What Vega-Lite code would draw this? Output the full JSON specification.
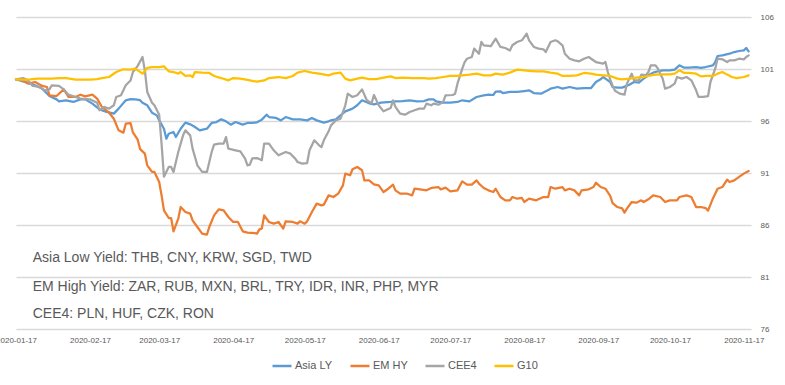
{
"$schema": "https://vega.github.io/schema/vega-lite/v6.json",
"width": 735, "height": 312,
"autosize": {"type": "none"},
"padding": {"left": 16, "top": 17, "right": 34, "bottom": 56},
"background": "white",
"config": {"view": {"stroke": null}, "font": "Liberation Sans"},
"datasets": {
"notes": [
{"t": "Asia Low Yield: THB, CNY, KRW, SGD, TWD", "d": "2020-01-24", "v": 82.49},
{"t": "EM High Yield: ZAR, RUB, MXN, BRL, TRY, IDR, INR, PHP, MYR", "d": "2020-01-24", "v": 79.7},
{"t": "CEE4: PLN, HUF, CZK, RON", "d": "2020-01-24", "v": 77.06}
],
"fx": [
{"s":"Asia LY","d":"2020-01-17","v":100},{"s":"Asia LY","d":"2020-01-20","v":99.81},{"s":"Asia LY","d":"2020-01-23","v":99.59},{"s":"Asia LY","d":"2020-01-25","v":99.43},{"s":"Asia LY","d":"2020-01-28","v":99.11},{"s":"Asia LY","d":"2020-01-31","v":98.4},{"s":"Asia LY","d":"2020-02-03","v":98.08},{"s":"Asia LY","d":"2020-02-04","v":97.89},{"s":"Asia LY","d":"2020-02-07","v":97.99},{"s":"Asia LY","d":"2020-02-10","v":97.83},{"s":"Asia LY","d":"2020-02-13","v":98.08},{"s":"Asia LY","d":"2020-02-15","v":98.08},{"s":"Asia LY","d":"2020-02-18","v":97.67},{"s":"Asia LY","d":"2020-02-21","v":97.12},{"s":"Asia LY","d":"2020-02-24","v":96.87},{"s":"Asia LY","d":"2020-02-27","v":96.71},{"s":"Asia LY","d":"2020-02-29","v":97.19},{"s":"Asia LY","d":"2020-03-03","v":97.99},{"s":"Asia LY","d":"2020-03-05","v":98.1},{"s":"Asia LY","d":"2020-03-07","v":98.08},{"s":"Asia LY","d":"2020-03-09","v":98.0},{"s":"Asia LY","d":"2020-03-10","v":97.76},{"s":"Asia LY","d":"2020-03-12","v":97.51},{"s":"Asia LY","d":"2020-03-14","v":96.8},{"s":"Asia LY","d":"2020-03-16","v":96.54},{"s":"Asia LY","d":"2020-03-17","v":96.06},{"s":"Asia LY","d":"2020-03-19","v":95.26},{"s":"Asia LY","d":"2020-03-20","v":94.3},{"s":"Asia LY","d":"2020-03-21","v":94.78},{"s":"Asia LY","d":"2020-03-23","v":94.94},{"s":"Asia LY","d":"2020-03-24","v":94.46},{"s":"Asia LY","d":"2020-03-26","v":95.26},{"s":"Asia LY","d":"2020-03-28","v":95.84},{"s":"Asia LY","d":"2020-03-30","v":95.68},{"s":"Asia LY","d":"2020-04-01","v":95.42},{"s":"Asia LY","d":"2020-04-03","v":95.1},{"s":"Asia LY","d":"2020-04-06","v":95.26},{"s":"Asia LY","d":"2020-04-08","v":95.81},{"s":"Asia LY","d":"2020-04-10","v":95.9},{"s":"Asia LY","d":"2020-04-12","v":96.16},{"s":"Asia LY","d":"2020-04-14","v":95.97},{"s":"Asia LY","d":"2020-04-16","v":95.65},{"s":"Asia LY","d":"2020-04-18","v":95.9},{"s":"Asia LY","d":"2020-04-21","v":95.65},{"s":"Asia LY","d":"2020-04-23","v":95.81},{"s":"Asia LY","d":"2020-04-25","v":95.81},{"s":"Asia LY","d":"2020-04-27","v":95.87},{"s":"Asia LY","d":"2020-04-29","v":96.13},{"s":"Asia LY","d":"2020-05-01","v":96.61},{"s":"Asia LY","d":"2020-05-02","v":96.38},{"s":"Asia LY","d":"2020-05-05","v":96.29},{"s":"Asia LY","d":"2020-05-07","v":96.06},{"s":"Asia LY","d":"2020-05-09","v":96.38},{"s":"Asia LY","d":"2020-05-12","v":96.16},{"s":"Asia LY","d":"2020-05-15","v":96.16},{"s":"Asia LY","d":"2020-05-18","v":96.06},{"s":"Asia LY","d":"2020-05-20","v":96.29},{"s":"Asia LY","d":"2020-05-22","v":96.06},{"s":"Asia LY","d":"2020-05-25","v":95.84},{"s":"Asia LY","d":"2020-05-27","v":95.97},{"s":"Asia LY","d":"2020-05-28","v":96.06},{"s":"Asia LY","d":"2020-05-30","v":96.16},{"s":"Asia LY","d":"2020-06-01","v":96.54},{"s":"Asia LY","d":"2020-06-03","v":96.93},{"s":"Asia LY","d":"2020-06-06","v":97.19},{"s":"Asia LY","d":"2020-06-08","v":97.51},{"s":"Asia LY","d":"2020-06-10","v":97.99},{"s":"Asia LY","d":"2020-06-13","v":97.7},{"s":"Asia LY","d":"2020-06-15","v":97.6},{"s":"Asia LY","d":"2020-06-18","v":97.76},{"s":"Asia LY","d":"2020-06-22","v":97.83},{"s":"Asia LY","d":"2020-06-24","v":97.89},{"s":"Asia LY","d":"2020-06-27","v":97.92},{"s":"Asia LY","d":"2020-06-30","v":97.99},{"s":"Asia LY","d":"2020-07-03","v":97.89},{"s":"Asia LY","d":"2020-07-06","v":97.92},{"s":"Asia LY","d":"2020-07-08","v":98.08},{"s":"Asia LY","d":"2020-07-10","v":98.08},{"s":"Asia LY","d":"2020-07-11","v":97.89},{"s":"Asia LY","d":"2020-07-14","v":97.76},{"s":"Asia LY","d":"2020-07-17","v":97.76},{"s":"Asia LY","d":"2020-07-20","v":97.83},{"s":"Asia LY","d":"2020-07-22","v":97.99},{"s":"Asia LY","d":"2020-07-25","v":97.89},{"s":"Asia LY","d":"2020-07-28","v":98.31},{"s":"Asia LY","d":"2020-07-31","v":98.47},{"s":"Asia LY","d":"2020-08-02","v":98.53},{"s":"Asia LY","d":"2020-08-04","v":98.5},{"s":"Asia LY","d":"2020-08-05","v":98.82},{"s":"Asia LY","d":"2020-08-07","v":98.85},{"s":"Asia LY","d":"2020-08-08","v":98.69},{"s":"Asia LY","d":"2020-08-11","v":98.79},{"s":"Asia LY","d":"2020-08-14","v":98.79},{"s":"Asia LY","d":"2020-08-17","v":98.88},{"s":"Asia LY","d":"2020-08-19","v":98.95},{"s":"Asia LY","d":"2020-08-21","v":98.69},{"s":"Asia LY","d":"2020-08-24","v":98.63},{"s":"Asia LY","d":"2020-08-26","v":98.85},{"s":"Asia LY","d":"2020-08-28","v":99.11},{"s":"Asia LY","d":"2020-08-31","v":99.27},{"s":"Asia LY","d":"2020-09-02","v":99.11},{"s":"Asia LY","d":"2020-09-05","v":99.27},{"s":"Asia LY","d":"2020-09-08","v":99.11},{"s":"Asia LY","d":"2020-09-11","v":99.17},{"s":"Asia LY","d":"2020-09-14","v":99.17},{"s":"Asia LY","d":"2020-09-16","v":99.75},{"s":"Asia LY","d":"2020-09-18","v":100.01},{"s":"Asia LY","d":"2020-09-19","v":100.23},{"s":"Asia LY","d":"2020-09-20","v":100.07},{"s":"Asia LY","d":"2020-09-22","v":99.75},{"s":"Asia LY","d":"2020-09-23","v":99.27},{"s":"Asia LY","d":"2020-09-25","v":99.2},{"s":"Asia LY","d":"2020-09-27","v":99.21},{"s":"Asia LY","d":"2020-09-30","v":99.49},{"s":"Asia LY","d":"2020-10-02","v":99.75},{"s":"Asia LY","d":"2020-10-04","v":99.69},{"s":"Asia LY","d":"2020-10-06","v":100.07},{"s":"Asia LY","d":"2020-10-08","v":100.39},{"s":"Asia LY","d":"2020-10-10","v":100.65},{"s":"Asia LY","d":"2020-10-12","v":100.78},{"s":"Asia LY","d":"2020-10-14","v":100.87},{"s":"Asia LY","d":"2020-10-17","v":100.87},{"s":"Asia LY","d":"2020-10-19","v":100.94},{"s":"Asia LY","d":"2020-10-21","v":101.35},{"s":"Asia LY","d":"2020-10-23","v":101.13},{"s":"Asia LY","d":"2020-10-25","v":101.13},{"s":"Asia LY","d":"2020-10-28","v":101.19},{"s":"Asia LY","d":"2020-10-30","v":101.1},{"s":"Asia LY","d":"2020-11-01","v":101.19},{"s":"Asia LY","d":"2020-11-04","v":101.35},{"s":"Asia LY","d":"2020-11-05","v":101.67},{"s":"Asia LY","d":"2020-11-06","v":102.25},{"s":"Asia LY","d":"2020-11-08","v":102.31},{"s":"Asia LY","d":"2020-11-11","v":102.47},{"s":"Asia LY","d":"2020-11-13","v":102.63},{"s":"Asia LY","d":"2020-11-15","v":102.73},{"s":"Asia LY","d":"2020-11-17","v":102.79},{"s":"Asia LY","d":"2020-11-18","v":103.02},{"s":"Asia LY","d":"2020-11-19","v":102.7},
{"s":"EM HY","d":"2020-01-17","v":100},{"s":"EM HY","d":"2020-01-20","v":99.91},{"s":"EM HY","d":"2020-01-22","v":99.59},{"s":"EM HY","d":"2020-01-25","v":99.75},{"s":"EM HY","d":"2020-01-28","v":99.37},{"s":"EM HY","d":"2020-01-30","v":99.27},{"s":"EM HY","d":"2020-01-31","v":98.47},{"s":"EM HY","d":"2020-02-03","v":98.4},{"s":"EM HY","d":"2020-02-06","v":99.04},{"s":"EM HY","d":"2020-02-08","v":98.31},{"s":"EM HY","d":"2020-02-11","v":98.31},{"s":"EM HY","d":"2020-02-13","v":98.53},{"s":"EM HY","d":"2020-02-15","v":98.37},{"s":"EM HY","d":"2020-02-18","v":98.53},{"s":"EM HY","d":"2020-02-20","v":98.15},{"s":"EM HY","d":"2020-02-22","v":97.35},{"s":"EM HY","d":"2020-02-25","v":96.8},{"s":"EM HY","d":"2020-02-27","v":96.22},{"s":"EM HY","d":"2020-02-29","v":95.1},{"s":"EM HY","d":"2020-03-02","v":94.88},{"s":"EM HY","d":"2020-03-03","v":95.74},{"s":"EM HY","d":"2020-03-05","v":95.8},{"s":"EM HY","d":"2020-03-06","v":94.9},{"s":"EM HY","d":"2020-03-08","v":94.2},{"s":"EM HY","d":"2020-03-09","v":93.3},{"s":"EM HY","d":"2020-03-11","v":92.86},{"s":"EM HY","d":"2020-03-12","v":91.74},{"s":"EM HY","d":"2020-03-14","v":91.1},{"s":"EM HY","d":"2020-03-15","v":91.1},{"s":"EM HY","d":"2020-03-17","v":90.13},{"s":"EM HY","d":"2020-03-18","v":88.85},{"s":"EM HY","d":"2020-03-19","v":87.41},{"s":"EM HY","d":"2020-03-21","v":86.67},{"s":"EM HY","d":"2020-03-22","v":86.67},{"s":"EM HY","d":"2020-03-23","v":85.39},{"s":"EM HY","d":"2020-03-25","v":86.61},{"s":"EM HY","d":"2020-03-26","v":87.73},{"s":"EM HY","d":"2020-03-28","v":87.25},{"s":"EM HY","d":"2020-03-30","v":87.09},{"s":"EM HY","d":"2020-03-31","v":86.45},{"s":"EM HY","d":"2020-04-02","v":85.81},{"s":"EM HY","d":"2020-04-04","v":85.17},{"s":"EM HY","d":"2020-04-06","v":85.07},{"s":"EM HY","d":"2020-04-07","v":85.81},{"s":"EM HY","d":"2020-04-09","v":86.93},{"s":"EM HY","d":"2020-04-11","v":87.51},{"s":"EM HY","d":"2020-04-13","v":87.41},{"s":"EM HY","d":"2020-04-15","v":86.77},{"s":"EM HY","d":"2020-04-17","v":86.29},{"s":"EM HY","d":"2020-04-19","v":86.29},{"s":"EM HY","d":"2020-04-21","v":85.39},{"s":"EM HY","d":"2020-04-23","v":85.26},{"s":"EM HY","d":"2020-04-26","v":85.22},{"s":"EM HY","d":"2020-04-27","v":85.17},{"s":"EM HY","d":"2020-04-28","v":85.58},{"s":"EM HY","d":"2020-04-29","v":85.65},{"s":"EM HY","d":"2020-04-30","v":86.93},{"s":"EM HY","d":"2020-05-02","v":86.29},{"s":"EM HY","d":"2020-05-04","v":86.13},{"s":"EM HY","d":"2020-05-06","v":86.29},{"s":"EM HY","d":"2020-05-08","v":85.65},{"s":"EM HY","d":"2020-05-09","v":86.35},{"s":"EM HY","d":"2020-05-12","v":86.29},{"s":"EM HY","d":"2020-05-14","v":86.13},{"s":"EM HY","d":"2020-05-15","v":86.35},{"s":"EM HY","d":"2020-05-17","v":86.13},{"s":"EM HY","d":"2020-05-18","v":86.35},{"s":"EM HY","d":"2020-05-20","v":87.25},{"s":"EM HY","d":"2020-05-22","v":88.05},{"s":"EM HY","d":"2020-05-24","v":87.89},{"s":"EM HY","d":"2020-05-25","v":87.96},{"s":"EM HY","d":"2020-05-27","v":88.85},{"s":"EM HY","d":"2020-05-29","v":88.69},{"s":"EM HY","d":"2020-05-31","v":89.01},{"s":"EM HY","d":"2020-06-02","v":89.81},{"s":"EM HY","d":"2020-06-03","v":90.94},{"s":"EM HY","d":"2020-06-05","v":90.78},{"s":"EM HY","d":"2020-06-06","v":91.35},{"s":"EM HY","d":"2020-06-08","v":91.58},{"s":"EM HY","d":"2020-06-10","v":91.26},{"s":"EM HY","d":"2020-06-11","v":90.29},{"s":"EM HY","d":"2020-06-13","v":90.29},{"s":"EM HY","d":"2020-06-15","v":89.9},{"s":"EM HY","d":"2020-06-17","v":89.81},{"s":"EM HY","d":"2020-06-19","v":89.17},{"s":"EM HY","d":"2020-06-21","v":89.49},{"s":"EM HY","d":"2020-06-23","v":89.88},{"s":"EM HY","d":"2020-06-24","v":89.33},{"s":"EM HY","d":"2020-06-26","v":89.01},{"s":"EM HY","d":"2020-06-29","v":89.01},{"s":"EM HY","d":"2020-07-01","v":88.85},{"s":"EM HY","d":"2020-07-02","v":89.49},{"s":"EM HY","d":"2020-07-05","v":89.4},{"s":"EM HY","d":"2020-07-07","v":89.33},{"s":"EM HY","d":"2020-07-09","v":89.56},{"s":"EM HY","d":"2020-07-12","v":89.65},{"s":"EM HY","d":"2020-07-13","v":89.43},{"s":"EM HY","d":"2020-07-15","v":89.59},{"s":"EM HY","d":"2020-07-17","v":89.24},{"s":"EM HY","d":"2020-07-20","v":89.33},{"s":"EM HY","d":"2020-07-22","v":90.2},{"s":"EM HY","d":"2020-07-24","v":89.88},{"s":"EM HY","d":"2020-07-26","v":89.88},{"s":"EM HY","d":"2020-07-28","v":90.29},{"s":"EM HY","d":"2020-07-29","v":89.97},{"s":"EM HY","d":"2020-07-31","v":89.56},{"s":"EM HY","d":"2020-08-02","v":89.33},{"s":"EM HY","d":"2020-08-04","v":89.17},{"s":"EM HY","d":"2020-08-05","v":89.49},{"s":"EM HY","d":"2020-08-07","v":88.69},{"s":"EM HY","d":"2020-08-09","v":88.37},{"s":"EM HY","d":"2020-08-11","v":88.37},{"s":"EM HY","d":"2020-08-12","v":88.69},{"s":"EM HY","d":"2020-08-14","v":88.53},{"s":"EM HY","d":"2020-08-16","v":88.6},{"s":"EM HY","d":"2020-08-17","v":88.21},{"s":"EM HY","d":"2020-08-19","v":88.53},{"s":"EM HY","d":"2020-08-22","v":88.37},{"s":"EM HY","d":"2020-08-25","v":88.69},{"s":"EM HY","d":"2020-08-27","v":88.69},{"s":"EM HY","d":"2020-08-28","v":89.65},{"s":"EM HY","d":"2020-08-30","v":89.49},{"s":"EM HY","d":"2020-09-02","v":89.65},{"s":"EM HY","d":"2020-09-03","v":89.33},{"s":"EM HY","d":"2020-09-05","v":89.49},{"s":"EM HY","d":"2020-09-07","v":89.33},{"s":"EM HY","d":"2020-09-09","v":88.85},{"s":"EM HY","d":"2020-09-10","v":89.33},{"s":"EM HY","d":"2020-09-13","v":89.43},{"s":"EM HY","d":"2020-09-15","v":89.65},{"s":"EM HY","d":"2020-09-16","v":90.07},{"s":"EM HY","d":"2020-09-18","v":89.65},{"s":"EM HY","d":"2020-09-20","v":89.49},{"s":"EM HY","d":"2020-09-22","v":88.8},{"s":"EM HY","d":"2020-09-23","v":88.1},{"s":"EM HY","d":"2020-09-25","v":87.73},{"s":"EM HY","d":"2020-09-27","v":87.6},{"s":"EM HY","d":"2020-09-28","v":87.19},{"s":"EM HY","d":"2020-09-29","v":87.57},{"s":"EM HY","d":"2020-10-01","v":88.21},{"s":"EM HY","d":"2020-10-03","v":88.15},{"s":"EM HY","d":"2020-10-05","v":88.37},{"s":"EM HY","d":"2020-10-06","v":88.21},{"s":"EM HY","d":"2020-10-08","v":88.47},{"s":"EM HY","d":"2020-10-10","v":88.85},{"s":"EM HY","d":"2020-10-13","v":88.69},{"s":"EM HY","d":"2020-10-15","v":88.21},{"s":"EM HY","d":"2020-10-17","v":88.37},{"s":"EM HY","d":"2020-10-20","v":88.37},{"s":"EM HY","d":"2020-10-21","v":88.69},{"s":"EM HY","d":"2020-10-24","v":88.85},{"s":"EM HY","d":"2020-10-26","v":88.69},{"s":"EM HY","d":"2020-10-28","v":87.73},{"s":"EM HY","d":"2020-10-30","v":87.73},{"s":"EM HY","d":"2020-11-01","v":87.63},{"s":"EM HY","d":"2020-11-02","v":87.38},{"s":"EM HY","d":"2020-11-04","v":88.53},{"s":"EM HY","d":"2020-11-06","v":89.49},{"s":"EM HY","d":"2020-11-08","v":89.65},{"s":"EM HY","d":"2020-11-10","v":90.36},{"s":"EM HY","d":"2020-11-11","v":90.13},{"s":"EM HY","d":"2020-11-13","v":90.29},{"s":"EM HY","d":"2020-11-15","v":90.62},{"s":"EM HY","d":"2020-11-17","v":90.94},{"s":"EM HY","d":"2020-11-19","v":91.19},
{"s":"CEE4","d":"2020-01-17","v":100},{"s":"CEE4","d":"2020-01-20","v":100.13},{"s":"CEE4","d":"2020-01-22","v":99.91},{"s":"CEE4","d":"2020-01-24","v":99.37},{"s":"CEE4","d":"2020-01-27","v":99.27},{"s":"CEE4","d":"2020-01-29","v":98.95},{"s":"CEE4","d":"2020-01-31","v":99.04},{"s":"CEE4","d":"2020-02-01","v":99.43},{"s":"CEE4","d":"2020-02-04","v":99.37},{"s":"CEE4","d":"2020-02-06","v":99.04},{"s":"CEE4","d":"2020-02-08","v":98.53},{"s":"CEE4","d":"2020-02-11","v":98.31},{"s":"CEE4","d":"2020-02-13","v":98.15},{"s":"CEE4","d":"2020-02-17","v":98.08},{"s":"CEE4","d":"2020-02-20","v":97.76},{"s":"CEE4","d":"2020-02-21","v":97.03},{"s":"CEE4","d":"2020-02-23","v":97.35},{"s":"CEE4","d":"2020-02-25","v":97.19},{"s":"CEE4","d":"2020-02-27","v":97.51},{"s":"CEE4","d":"2020-02-28","v":98.31},{"s":"CEE4","d":"2020-03-01","v":98.47},{"s":"CEE4","d":"2020-03-03","v":99.43},{"s":"CEE4","d":"2020-03-05","v":99.9},{"s":"CEE4","d":"2020-03-06","v":100.71},{"s":"CEE4","d":"2020-03-08","v":101.3},{"s":"CEE4","d":"2020-03-10","v":102.15},{"s":"CEE4","d":"2020-03-11","v":100.87},{"s":"CEE4","d":"2020-03-12","v":98.79},{"s":"CEE4","d":"2020-03-14","v":97.76},{"s":"CEE4","d":"2020-03-15","v":97.51},{"s":"CEE4","d":"2020-03-17","v":96.6},{"s":"CEE4","d":"2020-03-18","v":93.8},{"s":"CEE4","d":"2020-03-19","v":90.65},{"s":"CEE4","d":"2020-03-21","v":91.58},{"s":"CEE4","d":"2020-03-22","v":91.58},{"s":"CEE4","d":"2020-03-23","v":91.1},{"s":"CEE4","d":"2020-03-25","v":93.02},{"s":"CEE4","d":"2020-03-27","v":94.62},{"s":"CEE4","d":"2020-03-28","v":95.1},{"s":"CEE4","d":"2020-03-30","v":94.62},{"s":"CEE4","d":"2020-03-31","v":93.34},{"s":"CEE4","d":"2020-04-02","v":91.74},{"s":"CEE4","d":"2020-04-04","v":91.1},{"s":"CEE4","d":"2020-04-06","v":91.1},{"s":"CEE4","d":"2020-04-07","v":92.06},{"s":"CEE4","d":"2020-04-08","v":93.02},{"s":"CEE4","d":"2020-04-09","v":93.72},{"s":"CEE4","d":"2020-04-11","v":93.82},{"s":"CEE4","d":"2020-04-13","v":93.82},{"s":"CEE4","d":"2020-04-14","v":94.46},{"s":"CEE4","d":"2020-04-15","v":93.34},{"s":"CEE4","d":"2020-04-18","v":93.18},{"s":"CEE4","d":"2020-04-20","v":93.08},{"s":"CEE4","d":"2020-04-22","v":92.38},{"s":"CEE4","d":"2020-04-23","v":91.74},{"s":"CEE4","d":"2020-04-24","v":91.8},{"s":"CEE4","d":"2020-04-25","v":92.4},{"s":"CEE4","d":"2020-04-27","v":92.44},{"s":"CEE4","d":"2020-04-29","v":92.22},{"s":"CEE4","d":"2020-04-30","v":93.82},{"s":"CEE4","d":"2020-05-02","v":93.82},{"s":"CEE4","d":"2020-05-04","v":93.18},{"s":"CEE4","d":"2020-05-06","v":92.7},{"s":"CEE4","d":"2020-05-09","v":93.02},{"s":"CEE4","d":"2020-05-11","v":92.86},{"s":"CEE4","d":"2020-05-13","v":92.38},{"s":"CEE4","d":"2020-05-14","v":92.06},{"s":"CEE4","d":"2020-05-16","v":91.9},{"s":"CEE4","d":"2020-05-18","v":91.96},{"s":"CEE4","d":"2020-05-19","v":93.18},{"s":"CEE4","d":"2020-05-21","v":94.14},{"s":"CEE4","d":"2020-05-23","v":93.66},{"s":"CEE4","d":"2020-05-24","v":93.5},{"s":"CEE4","d":"2020-05-25","v":94.14},{"s":"CEE4","d":"2020-05-27","v":95.01},{"s":"CEE4","d":"2020-05-28","v":95.58},{"s":"CEE4","d":"2020-05-30","v":96.06},{"s":"CEE4","d":"2020-06-01","v":96.22},{"s":"CEE4","d":"2020-06-03","v":97.51},{"s":"CEE4","d":"2020-06-04","v":98.63},{"s":"CEE4","d":"2020-06-06","v":98.31},{"s":"CEE4","d":"2020-06-08","v":98.47},{"s":"CEE4","d":"2020-06-10","v":99.04},{"s":"CEE4","d":"2020-06-12","v":97.99},{"s":"CEE4","d":"2020-06-14","v":97.7},{"s":"CEE4","d":"2020-06-15","v":98.5},{"s":"CEE4","d":"2020-06-17","v":97.51},{"s":"CEE4","d":"2020-06-19","v":96.93},{"s":"CEE4","d":"2020-06-22","v":97.25},{"s":"CEE4","d":"2020-06-23","v":97.99},{"s":"CEE4","d":"2020-06-24","v":97.35},{"s":"CEE4","d":"2020-06-26","v":96.71},{"s":"CEE4","d":"2020-06-28","v":96.61},{"s":"CEE4","d":"2020-06-30","v":96.87},{"s":"CEE4","d":"2020-07-02","v":97.03},{"s":"CEE4","d":"2020-07-04","v":97.19},{"s":"CEE4","d":"2020-07-06","v":97.19},{"s":"CEE4","d":"2020-07-07","v":97.67},{"s":"CEE4","d":"2020-07-09","v":97.51},{"s":"CEE4","d":"2020-07-10","v":97.67},{"s":"CEE4","d":"2020-07-12","v":97.57},{"s":"CEE4","d":"2020-07-14","v":97.83},{"s":"CEE4","d":"2020-07-15","v":98.47},{"s":"CEE4","d":"2020-07-18","v":98.5},{"s":"CEE4","d":"2020-07-19","v":98.63},{"s":"CEE4","d":"2020-07-20","v":99.59},{"s":"CEE4","d":"2020-07-22","v":101.03},{"s":"CEE4","d":"2020-07-23","v":101.67},{"s":"CEE4","d":"2020-07-24","v":101.99},{"s":"CEE4","d":"2020-07-26","v":102.15},{"s":"CEE4","d":"2020-07-27","v":102.96},{"s":"CEE4","d":"2020-07-29","v":102.47},{"s":"CEE4","d":"2020-07-30","v":103.6},{"s":"CEE4","d":"2020-07-31","v":103.28},{"s":"CEE4","d":"2020-08-03","v":103.2},{"s":"CEE4","d":"2020-08-05","v":103.92},{"s":"CEE4","d":"2020-08-07","v":103.12},{"s":"CEE4","d":"2020-08-09","v":103.02},{"s":"CEE4","d":"2020-08-11","v":102.79},{"s":"CEE4","d":"2020-08-12","v":103.28},{"s":"CEE4","d":"2020-08-14","v":103.6},{"s":"CEE4","d":"2020-08-16","v":103.76},{"s":"CEE4","d":"2020-08-18","v":104.4},{"s":"CEE4","d":"2020-08-19","v":103.76},{"s":"CEE4","d":"2020-08-21","v":103.12},{"s":"CEE4","d":"2020-08-23","v":102.96},{"s":"CEE4","d":"2020-08-25","v":102.89},{"s":"CEE4","d":"2020-08-26","v":102.63},{"s":"CEE4","d":"2020-08-28","v":103.6},{"s":"CEE4","d":"2020-08-30","v":103.76},{"s":"CEE4","d":"2020-08-31","v":103.66},{"s":"CEE4","d":"2020-09-02","v":103.28},{"s":"CEE4","d":"2020-09-03","v":102.47},{"s":"CEE4","d":"2020-09-05","v":101.99},{"s":"CEE4","d":"2020-09-07","v":101.83},{"s":"CEE4","d":"2020-09-09","v":101.74},{"s":"CEE4","d":"2020-09-11","v":101.99},{"s":"CEE4","d":"2020-09-13","v":102.15},{"s":"CEE4","d":"2020-09-14","v":101.99},{"s":"CEE4","d":"2020-09-16","v":101.67},{"s":"CEE4","d":"2020-09-19","v":101.51},{"s":"CEE4","d":"2020-09-20","v":101.67},{"s":"CEE4","d":"2020-09-21","v":100.71},{"s":"CEE4","d":"2020-09-22","v":100.0},{"s":"CEE4","d":"2020-09-23","v":99.4},{"s":"CEE4","d":"2020-09-24","v":98.9},{"s":"CEE4","d":"2020-09-26","v":98.63},{"s":"CEE4","d":"2020-09-28","v":98.53},{"s":"CEE4","d":"2020-09-29","v":99.59},{"s":"CEE4","d":"2020-10-01","v":100.55},{"s":"CEE4","d":"2020-10-02","v":99.91},{"s":"CEE4","d":"2020-10-04","v":99.91},{"s":"CEE4","d":"2020-10-05","v":100.46},{"s":"CEE4","d":"2020-10-07","v":100.4},{"s":"CEE4","d":"2020-10-08","v":100.71},{"s":"CEE4","d":"2020-10-09","v":101.35},{"s":"CEE4","d":"2020-10-11","v":101.35},{"s":"CEE4","d":"2020-10-12","v":101.03},{"s":"CEE4","d":"2020-10-14","v":100.07},{"s":"CEE4","d":"2020-10-15","v":99.11},{"s":"CEE4","d":"2020-10-17","v":99.27},{"s":"CEE4","d":"2020-10-19","v":99.59},{"s":"CEE4","d":"2020-10-20","v":100.23},{"s":"CEE4","d":"2020-10-22","v":100.07},{"s":"CEE4","d":"2020-10-24","v":100.23},{"s":"CEE4","d":"2020-10-26","v":99.91},{"s":"CEE4","d":"2020-10-28","v":98.95},{"s":"CEE4","d":"2020-10-29","v":98.31},{"s":"CEE4","d":"2020-10-31","v":98.31},{"s":"CEE4","d":"2020-11-02","v":98.4},{"s":"CEE4","d":"2020-11-03","v":99.75},{"s":"CEE4","d":"2020-11-05","v":101.03},{"s":"CEE4","d":"2020-11-06","v":101.99},{"s":"CEE4","d":"2020-11-08","v":101.93},{"s":"CEE4","d":"2020-11-10","v":101.67},{"s":"CEE4","d":"2020-11-11","v":101.83},{"s":"CEE4","d":"2020-11-13","v":101.83},{"s":"CEE4","d":"2020-11-15","v":101.99},{"s":"CEE4","d":"2020-11-17","v":101.93},{"s":"CEE4","d":"2020-11-18","v":102.15},{"s":"CEE4","d":"2020-11-19","v":102.31},
{"s":"G10","d":"2020-01-17","v":100},{"s":"G10","d":"2020-01-20","v":99.97},{"s":"G10","d":"2020-01-23","v":100.01},{"s":"G10","d":"2020-01-26","v":100.07},{"s":"G10","d":"2020-01-29","v":100.07},{"s":"G10","d":"2020-02-01","v":100.07},{"s":"G10","d":"2020-02-04","v":100.13},{"s":"G10","d":"2020-02-07","v":100.13},{"s":"G10","d":"2020-02-11","v":99.97},{"s":"G10","d":"2020-02-17","v":99.97},{"s":"G10","d":"2020-02-20","v":100.03},{"s":"G10","d":"2020-02-22","v":100.13},{"s":"G10","d":"2020-02-25","v":100.23},{"s":"G10","d":"2020-02-28","v":100.71},{"s":"G10","d":"2020-03-02","v":100.97},{"s":"G10","d":"2020-03-05","v":100.95},{"s":"G10","d":"2020-03-07","v":101.03},{"s":"G10","d":"2020-03-10","v":100.55},{"s":"G10","d":"2020-03-12","v":101.1},{"s":"G10","d":"2020-03-14","v":101.19},{"s":"G10","d":"2020-03-17","v":101.19},{"s":"G10","d":"2020-03-19","v":101.25},{"s":"G10","d":"2020-03-21","v":100.78},{"s":"G10","d":"2020-03-23","v":100.71},{"s":"G10","d":"2020-03-25","v":100.55},{"s":"G10","d":"2020-03-26","v":100.71},{"s":"G10","d":"2020-03-28","v":100.33},{"s":"G10","d":"2020-03-30","v":100.39},{"s":"G10","d":"2020-03-31","v":100.23},{"s":"G10","d":"2020-04-01","v":100.71},{"s":"G10","d":"2020-04-04","v":100.65},{"s":"G10","d":"2020-04-07","v":100.62},{"s":"G10","d":"2020-04-09","v":100.33},{"s":"G10","d":"2020-04-12","v":100.13},{"s":"G10","d":"2020-04-15","v":99.91},{"s":"G10","d":"2020-04-17","v":100.13},{"s":"G10","d":"2020-04-20","v":100.07},{"s":"G10","d":"2020-04-23","v":99.95},{"s":"G10","d":"2020-04-25","v":99.85},{"s":"G10","d":"2020-04-27","v":99.78},{"s":"G10","d":"2020-04-30","v":99.9},{"s":"G10","d":"2020-05-02","v":100.13},{"s":"G10","d":"2020-05-06","v":100.23},{"s":"G10","d":"2020-05-09","v":100.13},{"s":"G10","d":"2020-05-12","v":100.33},{"s":"G10","d":"2020-05-14","v":100.65},{"s":"G10","d":"2020-05-17","v":100.81},{"s":"G10","d":"2020-05-20","v":100.65},{"s":"G10","d":"2020-05-23","v":100.55},{"s":"G10","d":"2020-05-27","v":100.39},{"s":"G10","d":"2020-05-29","v":100.55},{"s":"G10","d":"2020-06-01","v":100.65},{"s":"G10","d":"2020-06-03","v":100.07},{"s":"G10","d":"2020-06-05","v":99.91},{"s":"G10","d":"2020-06-08","v":100.07},{"s":"G10","d":"2020-06-10","v":100.17},{"s":"G10","d":"2020-06-13","v":100.03},{"s":"G10","d":"2020-06-16","v":100.03},{"s":"G10","d":"2020-06-19","v":100.17},{"s":"G10","d":"2020-06-22","v":100.29},{"s":"G10","d":"2020-06-24","v":100.13},{"s":"G10","d":"2020-06-27","v":100.17},{"s":"G10","d":"2020-07-01","v":100.13},{"s":"G10","d":"2020-07-06","v":100.13},{"s":"G10","d":"2020-07-08","v":100.07},{"s":"G10","d":"2020-07-11","v":100.13},{"s":"G10","d":"2020-07-14","v":100.23},{"s":"G10","d":"2020-07-17","v":100.33},{"s":"G10","d":"2020-07-20","v":100.33},{"s":"G10","d":"2020-07-22","v":100.39},{"s":"G10","d":"2020-07-25","v":100.46},{"s":"G10","d":"2020-07-28","v":100.55},{"s":"G10","d":"2020-07-31","v":100.39},{"s":"G10","d":"2020-08-03","v":100.39},{"s":"G10","d":"2020-08-05","v":100.55},{"s":"G10","d":"2020-08-08","v":100.46},{"s":"G10","d":"2020-08-11","v":100.65},{"s":"G10","d":"2020-08-14","v":100.94},{"s":"G10","d":"2020-08-17","v":100.87},{"s":"G10","d":"2020-08-19","v":100.81},{"s":"G10","d":"2020-08-22","v":100.78},{"s":"G10","d":"2020-08-25","v":100.78},{"s":"G10","d":"2020-08-28","v":100.65},{"s":"G10","d":"2020-08-31","v":100.55},{"s":"G10","d":"2020-09-02","v":100.33},{"s":"G10","d":"2020-09-05","v":100.33},{"s":"G10","d":"2020-09-08","v":100.39},{"s":"G10","d":"2020-09-11","v":100.62},{"s":"G10","d":"2020-09-14","v":100.55},{"s":"G10","d":"2020-09-16","v":100.46},{"s":"G10","d":"2020-09-19","v":100.39},{"s":"G10","d":"2020-09-22","v":100.33},{"s":"G10","d":"2020-09-25","v":100.07},{"s":"G10","d":"2020-09-27","v":100.01},{"s":"G10","d":"2020-09-30","v":100.07},{"s":"G10","d":"2020-10-03","v":100.17},{"s":"G10","d":"2020-10-06","v":100.23},{"s":"G10","d":"2020-10-09","v":100.39},{"s":"G10","d":"2020-10-11","v":100.46},{"s":"G10","d":"2020-10-14","v":100.49},{"s":"G10","d":"2020-10-17","v":100.49},{"s":"G10","d":"2020-10-19","v":100.55},{"s":"G10","d":"2020-10-21","v":100.87},{"s":"G10","d":"2020-10-23","v":100.62},{"s":"G10","d":"2020-10-25","v":100.62},{"s":"G10","d":"2020-10-28","v":100.55},{"s":"G10","d":"2020-10-30","v":100.29},{"s":"G10","d":"2020-11-01","v":100.33},{"s":"G10","d":"2020-11-04","v":100.33},{"s":"G10","d":"2020-11-06","v":100.55},{"s":"G10","d":"2020-11-08","v":100.71},{"s":"G10","d":"2020-11-10","v":100.46},{"s":"G10","d":"2020-11-12","v":100.23},{"s":"G10","d":"2020-11-14","v":100.13},{"s":"G10","d":"2020-11-17","v":100.23},{"s":"G10","d":"2020-11-19","v":100.39}
]
},
"layer": [
{
"data": {"name": "fx"},
"mark": {"type": "line", "strokeWidth": 2.25, "strokeJoin": "round", "strokeCap": "round"},
"encoding": {
"x": {"field": "d", "type": "temporal",
 "scale": {"type": "utc", "nice": false, "domain": [{"year": 2020, "month": 1, "date": 17, "utc": true}, {"year": 2020, "month": 11, "date": 20, "utc": true}]},
 "axis": {"title": null, "domain": false, "ticks": false, "grid": false, "format": "%Y-%m-%d", "labelFlush": false, "labelOverlap": false, "labelFont": "Liberation Sans", "labelFontSize": 8, "labelColor": "#595959", "labelPadding": 7,
  "values": [
   {"year": 2020, "month": 1, "date": 17, "utc": true}, {"year": 2020, "month": 2, "date": 17, "utc": true}, {"year": 2020, "month": 3, "date": 17, "utc": true}, {"year": 2020, "month": 4, "date": 17, "utc": true}, {"year": 2020, "month": 5, "date": 17, "utc": true}, {"year": 2020, "month": 6, "date": 17, "utc": true}, {"year": 2020, "month": 7, "date": 17, "utc": true}, {"year": 2020, "month": 8, "date": 17, "utc": true}, {"year": 2020, "month": 9, "date": 17, "utc": true}, {"year": 2020, "month": 10, "date": 17, "utc": true}, {"year": 2020, "month": 11, "date": 17, "utc": true}]}},
"y": {"field": "v", "type": "quantitative",
 "scale": {"domain": [76, 106], "nice": false, "zero": false},
 "axis": {"title": null, "orient": "right", "domain": false, "ticks": false, "grid": true, "gridColor": "#D9D9D9", "gridWidth": 1.3, "values": [76, 81, 86, 91, 96, 101, 106], "labelFont": "Liberation Sans", "labelFontSize": 8, "labelColor": "#595959", "labelPadding": 9}},
"color": {"field": "s", "type": "nominal",
 "scale": {"domain": ["Asia LY", "EM HY", "CEE4", "G10"], "range": ["#5B9BD5", "#ED7D31", "#A5A5A5", "#FFC000"]},
 "legend": {"title": null, "orient": "none", "direction": "horizontal", "legendX": 255, "legendY": 338, "symbolType": "stroke", "symbolSize": 361, "symbolStrokeWidth": 2.5, "labelFont": "Liberation Sans", "labelFontSize": 11, "labelColor": "#595959", "labelOffset": 2, "columnPadding": 12, "padding": 0}}
}
},
{
"data": {"name": "notes"},
"mark": {"type": "text", "align": "left", "baseline": "alphabetic", "font": "Liberation Sans", "fontSize": 14, "color": "#595959"},
"encoding": {
"x": {"field": "d", "type": "temporal"},
"y": {"field": "v", "type": "quantitative"},
"text": {"field": "t", "type": "nominal"}
}
}
]
}
